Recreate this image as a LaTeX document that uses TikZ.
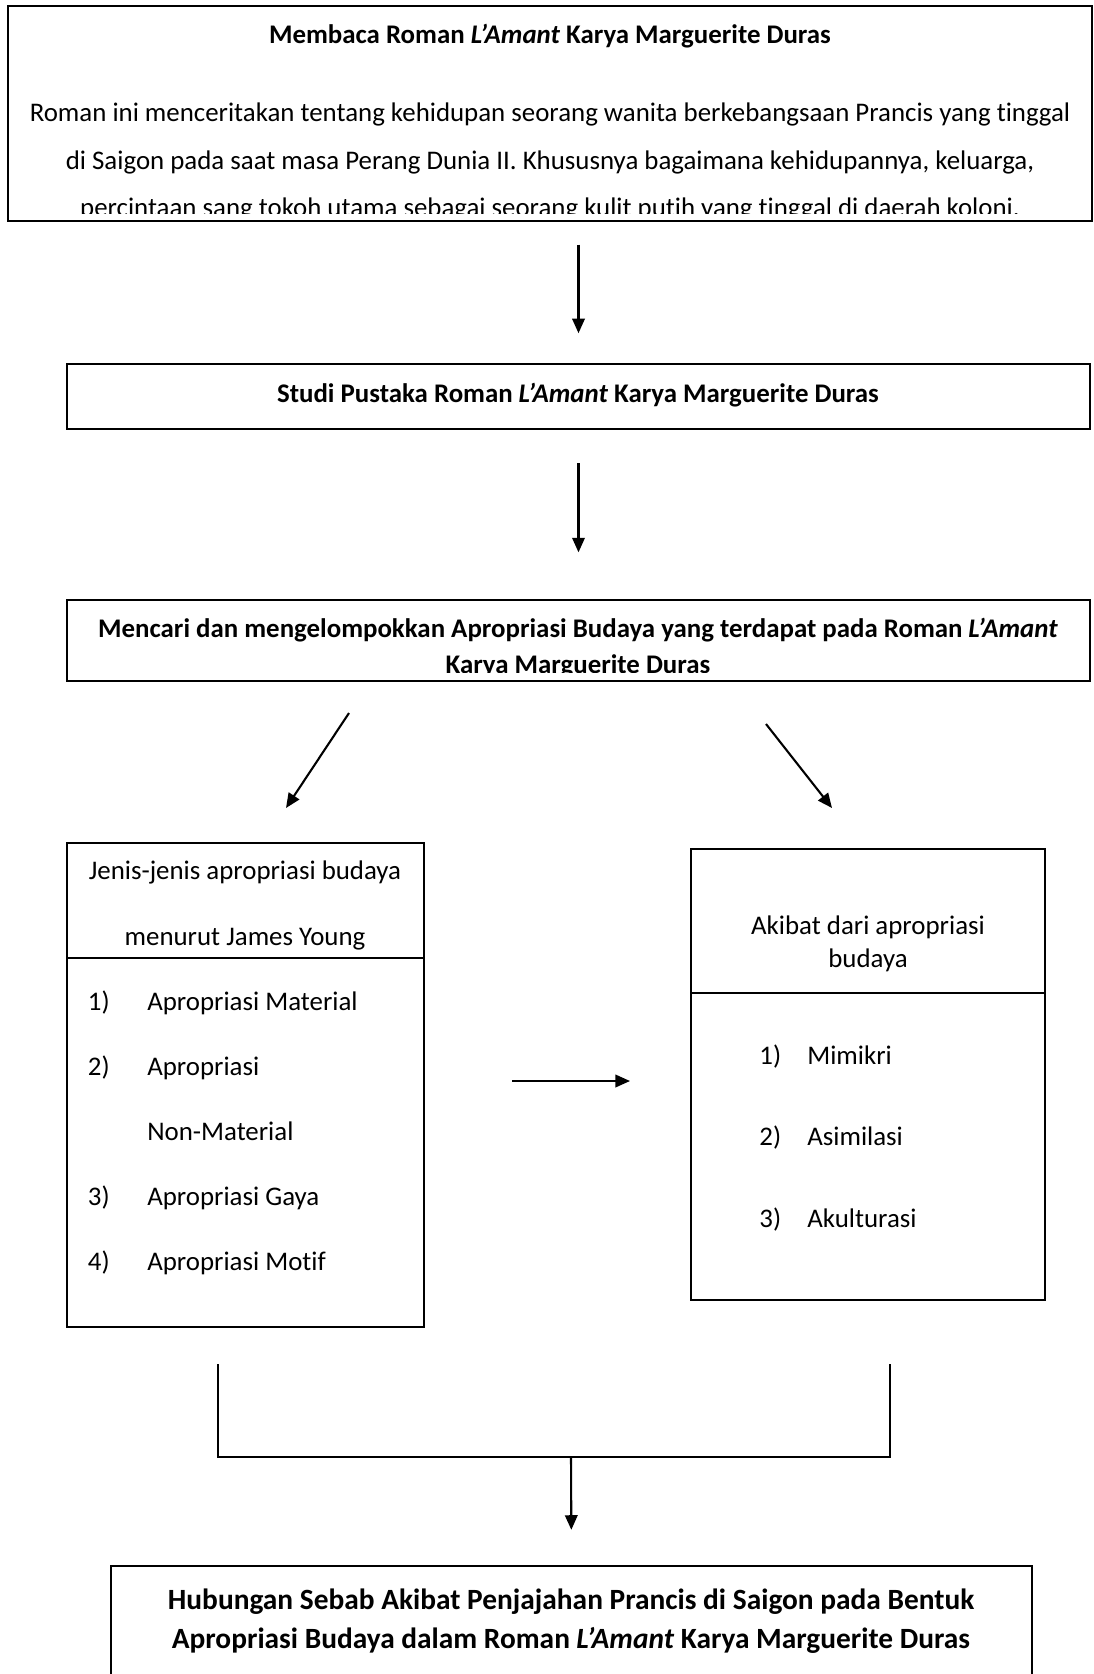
\documentclass[tikz,border=0pt]{standalone}
\usepackage{fontspec}
\setmainfont{Carlito}[Ligatures={TeX,NoCommon}]
\usetikzlibrary{arrows.meta,fit}

\tikzset{
    kotak/.style={draw, line width=0.75pt, inner sep=0},
    garis/.style={line width=0.75pt},
    panah/.style={-{Triangle[length=7pt, width=6pt]}, line width=1pt},
    teks/.style={inner sep=0, align=center, font=\fontsize{12.9}{15.5}\selectfont},
}

\begin{document}
\begin{tikzpicture}[x=0.48pt, y=-0.48pt]
    \useasboundingbox (0,0) rectangle (1094,1674);

    % kotak 1
    \begin{scope}
        \clip (8,6) rectangle (1092,213);
        \node[teks, font=\bfseries\fontsize{12.9}{15.5}\selectfont] (judul) at (550,36) {Membaca Roman \textit{L’Amant} Karya Marguerite Duras};
        \node[teks, font=\fontsize{12.9}{23}\selectfont] (isi) at (550,162) {Roman ini menceritakan tentang kehidupan seorang wanita berkebangsaan Prancis yang tinggal\\di Saigon pada saat masa Perang Dunia II. Khususnya bagaimana kehidupannya, keluarga,\\percintaan sang tokoh utama sebagai seorang kulit putih yang tinggal di daerah koloni.};
    \end{scope}
    \node[kotak, fit={(8,6) (1092,221)}] (baca) {};

    % kotak 2
    \node[kotak, fit={(67,364) (1090,429)}] (studi) {};
    \node[teks, font=\bfseries\fontsize{12.9}{15.5}\selectfont] (studiteks) at (578,395) {Studi Pustaka Roman \textit{L’Amant} Karya Marguerite Duras};

    % kotak 3
    \begin{scope}
        \clip (67,600) rectangle (1090,672);
        \node[teks, font=\bfseries\fontsize{12.9}{17.3}\selectfont] (cariteks) at (578,648) {Mencari dan mengelompokkan Apropriasi Budaya yang terdapat pada Roman \textit{L’Amant}\\Karya Marguerite Duras};
    \end{scope}
    \node[kotak, fit={(67,600) (1090,681)}] (cari) {};

    % kotak kiri
    \node[kotak, fit={(67,843) (424,1327)}] (jenis) {};
    \draw[garis] (jenis.west |- 0,958) -- (jenis.east |- 0,958);
    \node[teks, font=\fontsize{12.9}{31.7}\selectfont] (jenisjudul) at (245,905) {Jenis-jenis apropriasi budaya\\menurut James Young};
    \node[teks, align=left, anchor=west, font=\fontsize{12.9}{31.2}\selectfont] (jenisisi) at (87.5,1133) {%
        \makebox[28.5pt][l]{1)}Apropriasi Material\\
        \makebox[28.5pt][l]{2)}Apropriasi\\
        \hspace*{28.5pt}Non-Material\\
        \makebox[28.5pt][l]{3)}Apropriasi Gaya\\
        \makebox[28.5pt][l]{4)}Apropriasi Motif};

    % kotak kanan
    \node[kotak, fit={(691,849) (1045,1300)}] (akibat) {};
    \draw[garis] (akibat.west |- 0,993) -- (akibat.east |- 0,993);
    \node[teks, font=\fontsize{12.9}{16}\selectfont] (akibatjudul) at (868,944) {Akibat dari apropriasi\\budaya};
    \node[teks, align=left, anchor=west, font=\fontsize{12.9}{39}\selectfont] (akibatisi) at (759,1138) {%
        \makebox[23pt][l]{1)}Mimikri\\
        \makebox[23pt][l]{2)}Asimilasi\\
        \makebox[23pt][l]{3)}Akulturasi};

    % kotak bawah
    \node[kotak, fit={(111,1566) (1032,1700)}] (hubungan) {};
    \node[teks, font=\bfseries\fontsize{14.1}{18.4}\selectfont] (hubunganteks) at (571,1621) {Hubungan Sebab Akibat Penjajahan Prancis di Saigon pada Bentuk\\Apropriasi Budaya dalam Roman \textit{L’Amant} Karya Marguerite Duras};

    % titik bantu
    \coordinate (kiriawal) at (349,713);
    \coordinate (kiriakhir) at (286,808);
    \coordinate (kananawal) at (766,724);
    \coordinate (kananakhir) at (832,808);
    \coordinate (tengahawal) at (512,1081);
    \coordinate (tengahakhir) at (630,1081);
    \coordinate (kurungkiri) at (218,1364);
    \coordinate (kurungkanan) at (890,1364);
    \coordinate (gabung) at (571,1457);

    % panah
    \draw[panah, shorten <=11pt, shorten >=14.4pt] (studi.north |- baca.south) -- (studi.north);
    \draw[panah, shorten <=16pt, shorten >=22.5pt] (studi.south) -- (cari.north);
    \draw[panah] (kiriawal) -- (kiriakhir);
    \draw[panah] (kananawal) -- (kananakhir);
    \draw[panah] (tengahawal) -- (tengahakhir);
    \draw[garis] (kurungkiri) |- (gabung) -| (kurungkanan);
    \draw[panah, shorten >=17pt] (gabung) -- (hubungan.north);
\end{tikzpicture}
\end{document}
